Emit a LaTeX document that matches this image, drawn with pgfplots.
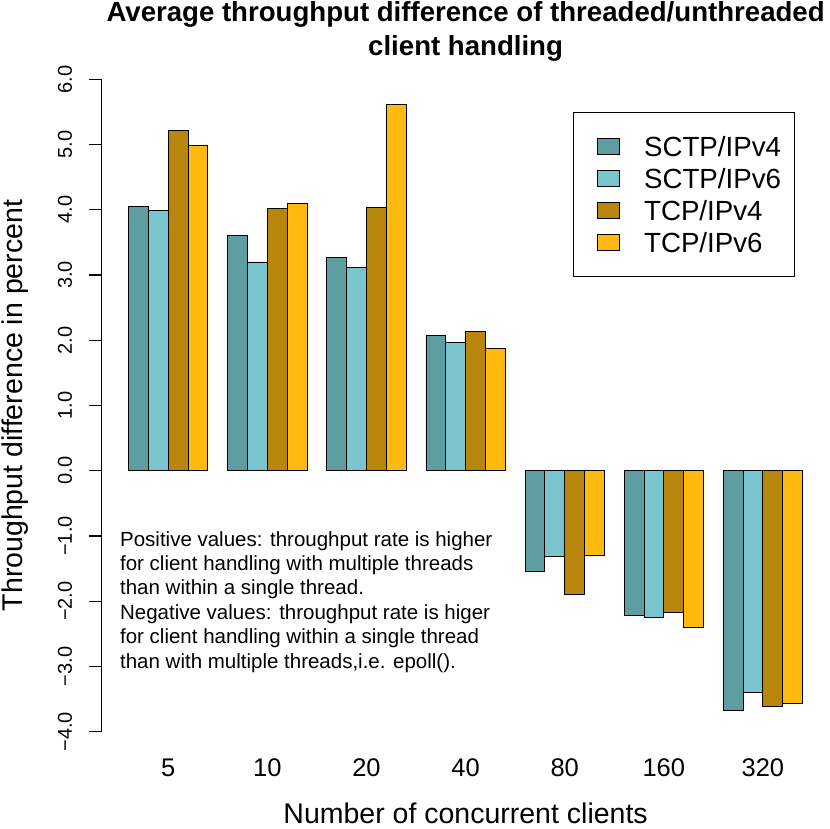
\documentclass[border=0pt]{standalone}
\usepackage{fontspec}
\setmainfont{Liberation Sans}
\usepackage{pgfplots}
\usepackage{pgfplotstable}
\pgfplotsset{compat=1.18}

\definecolor{sctpfour}{HTML}{5F9EA0}
\definecolor{sctpsix}{HTML}{7AC5CD}
\definecolor{tcpfour}{HTML}{B8860B}
\definecolor{tcpsix}{HTML}{FFB90F}

% average throughput difference (percent), threaded vs. unthreaded
\pgfplotstableread{
clients sctp4 sctp6 tcp4 tcp6
5    4.05  3.99  5.22  4.99
10   3.60  3.20  4.02  4.10
20   3.27  3.12  4.04  5.62
40   2.08  1.96  2.14  1.88
80  -1.55 -1.31 -1.89 -1.30
160 -2.22 -2.25 -2.17 -2.40
320 -3.68 -3.40 -3.61 -3.57
}\diffdata

\pgfplotsset{
  sq legend/.style={legend image code/.code={
    \path (-10.4pt,0pt) (46pt,0pt);
    \draw[##1, line width=0.9pt] (0pt,-8pt) rectangle (21.6pt,8pt);}},
}

\begin{document}
\begin{tikzpicture}
\useasboundingbox (-101.7pt,-97.3pt) rectangle (728.3pt,731.7pt);
\begin{axis}[
  at={(0pt,0pt)}, anchor=south west,
  scale only axis, width=727.8pt, height=652.4pt,
  xmin=-1.36, xmax=35.36, ymin=-4, ymax=6,
  clip=false,
  axis lines*=left,
  axis line style={line width=1.1pt, black},
  x axis line style={draw=none},
  xtick style={draw=none},
  ytick style={line width=1.1pt, black},
  tick align=outside,
  major tick length=12.4pt,
  ybar=0pt, bar width=19.82pt,
  xtick={2,7,12,17,22,27,32},
  xticklabels={5,10,20,40,80,160,320},
  ytick={-4,-3,-2,-1,0,1,2,3,4,5,6},
  yticklabels={−4.0,−3.0,−2.0,−1.0,0.0,1.0,2.0,3.0,4.0,5.0,6.0},
  xticklabel style={font=\fontsize{25.5}{30}\selectfont, anchor=base, yshift=-32.6pt},
  yticklabel style={font=\fontsize{20}{24}\selectfont, xshift=-17.3pt, rotate=90, anchor=base},
  title={Average throughput difference of threaded/unthreaded\\client handling},
  title style={font=\fontsize{27.6}{33.3}\selectfont\bfseries, align=center,
    at={(axis description cs:0.5,1)}, anchor=north, yshift=71.6pt, inner sep=0pt},
  xlabel={Number of concurrent clients},
  ylabel={Throughput difference in percent},
  every axis x label/.style={at={(axis description cs:0.5,0)}, yshift=-91.6pt,
    anchor=base, font=\fontsize{28.5}{34}\selectfont},
  every axis y label/.style={at={(axis description cs:0,0.5)}, xshift=-78.7pt,
    rotate=90, anchor=base, font=\fontsize{28.5}{34}\selectfont},
  legend cell align=left,
  legend style={at={(axis cs:22.40,5.503)}, anchor=north west,
    draw=black, line width=1.1pt, inner xsep=13.6pt, inner ysep=20.8pt,
    row sep=6.2pt, column sep=0pt,
    nodes={inner sep=0pt, text height=23pt, text depth=3pt,
      font=\fontsize{27.7}{33}\selectfont}},
]
\addplot[fill=sctpfour, draw=black, line width=0.9pt, sq legend]
  table[x expr=5*\coordindex+2, y=sctp4] {\diffdata};
\addplot[fill=sctpsix, draw=black, line width=0.9pt, sq legend]
  table[x expr=5*\coordindex+2, y=sctp6] {\diffdata};
\addplot[fill=tcpfour, draw=black, line width=0.9pt, sq legend]
  table[x expr=5*\coordindex+2, y=tcp4] {\diffdata};
\addplot[fill=tcpsix, draw=black, line width=0.9pt, sq legend]
  table[x expr=5*\coordindex+2, y=tcp6] {\diffdata};
\legend{SCTP/IPv4,SCTP/IPv6,TCP/IPv4,TCP/IPv6}

\node[anchor=north west, align=left, inner sep=0pt,
  font=\fontsize{20.5}{24.4}\selectfont] at (axis cs:-0.44,-0.924)
  {Positive values: throughput rate is higher\\
   for client handling with multiple threads\\
   than within a single thread.\\
   Negative values: throughput rate is higer\\
   for client handling within a single thread\\
   than with multiple threads,i.e. epoll().};
\end{axis}
\end{tikzpicture}
\end{document}
